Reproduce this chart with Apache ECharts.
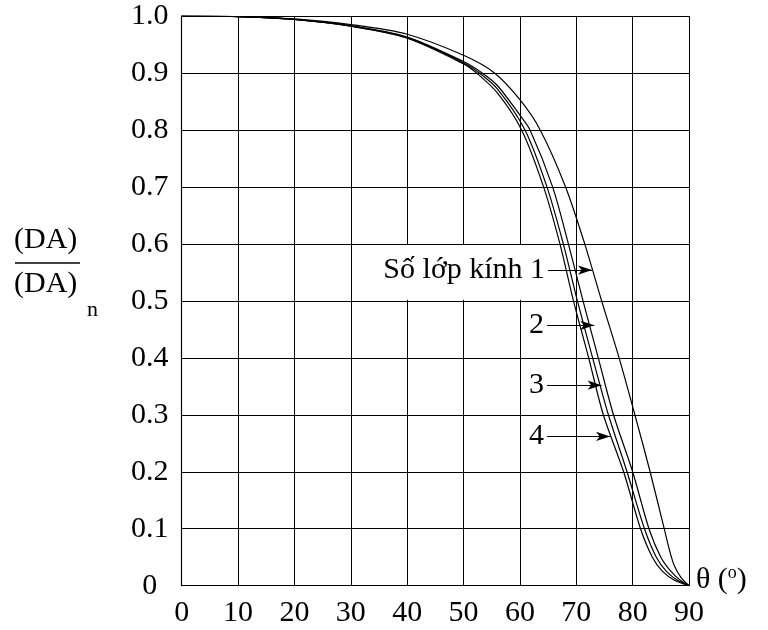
<!DOCTYPE html>
<html>
<head>
<meta charset="utf-8">
<script src="https://cdn.jsdelivr.net/npm/echarts@6/dist/echarts.min.js"></script>
<style>html,body{margin:0;padding:0;background:#fff;}#c{width:768px;height:630px;}</style>
</head>
<body>
<div id="c"></div>
<script>
// Data: [theta (deg), (DA)/(DA)n]
const curve1 = [[0,1.0],[10,0.999],[20,0.995],[30,0.985],[40,0.968],[50,0.931],[55.5,0.9],[60,0.853],[63.6,0.8],[68.1,0.7],[71.5,0.6],[74.5,0.5],[77.6,0.4],[80.4,0.3],[83.1,0.2],[85.6,0.1],[86.6,0.06],[87.4,0.035],[88.6,0.014],[90,0]];
const curve2 = [[0,1.0],[10,0.999],[20,0.994],[30,0.983],[40,0.963],[50,0.92],[53.3,0.9],[56,0.878],[60,0.826],[61.8,0.8],[65.8,0.7],[68.6,0.6],[71.2,0.5],[73.9,0.4],[76.6,0.3],[80.0,0.2],[82.9,0.1],[85.0,0.05],[86.8,0.025],[88.5,0.009],[90,0]];
const curve3 = [[0,1.0],[10,0.999],[20,0.994],[30,0.982],[40,0.962],[50,0.918],[52.8,0.9],[56,0.872],[60.9,0.8],[64.8,0.7],[67.7,0.6],[70.2,0.5],[72.9,0.4],[75.7,0.3],[79.0,0.2],[82.1,0.1],[84.2,0.05],[86.0,0.025],[88.0,0.009],[90,0]];
const curve4 = [[0,1.0],[10,0.999],[20,0.994],[30,0.982],[40,0.961],[50,0.916],[52.3,0.9],[56,0.865],[60.3,0.8],[64.2,0.7],[67.1,0.6],[69.5,0.5],[72.2,0.4],[74.8,0.3],[78.4,0.2],[81.4,0.1],[83.5,0.05],[85.3,0.025],[87.5,0.009],[90,0]];
const curveLabels = ['Số lớp kính 1', '2', '3', '4'];
// arrow pointers: [startTheta, endTheta, value]
const arrows = [[65.0, 72.8, 0.554], [64.8, 73.2, 0.457], [64.8, 74.5, 0.352], [64.8, 76.0, 0.262]];
const xTicks = ['0','10','20','30','40','50','60','70','80','90'];
const yTicks = ['0','0.1','0.2','0.3','0.4','0.5','0.6','0.7','0.8','0.9','1.0'];

const FONT = 'Liberation Serif';
const FS = 30;
const chart = echarts.init(document.getElementById('c'), null, {renderer: 'canvas'});

const lineSeries = [curve1, curve2, curve3, curve4].map(d => ({
  type: 'line', data: d, symbol: 'none', smooth: 0.3,
  lineStyle: {color: '#000', width: 1.2}, z: 3, silent: true
}));

chart.setOption({
  animation: false,
  backgroundColor: '#fff',
  grid: {left: 181.7, right: 79, top: 16, bottom: 44.3},
  xAxis: {
    type: 'value', min: 0, max: 90, interval: 10,
    axisLine: {show: true, lineStyle: {color: '#000', width: 1.2}},
    axisTick: {show: false},
    splitLine: {show: true, lineStyle: {color: '#000', width: 1}},
    axisLabel: {color: '#000', fontFamily: FONT, fontSize: FS, margin: 12,
      formatter: v => xTicks[Math.round(v / 10)]}
  },
  yAxis: {
    type: 'value', min: 0, max: 1, interval: 0.1,
    axisLine: {show: true, lineStyle: {color: '#000', width: 1.2}},
    axisTick: {show: false},
    splitLine: {show: true, lineStyle: {color: '#000', width: 1}},
    axisLabel: {color: '#000', fontFamily: FONT, fontSize: FS, margin: 32, align: 'center',
      formatter: v => yTicks[Math.round(v * 10)]}
  },
  series: [
    {
      type: 'line', data: [], z: 1, silent: true,
      markArea: {silent: true, itemStyle: {color: '#fff', opacity: 1},
        data: [[{coord: [30.25, 0.502]}, {coord: [66.2, 0.598]}]]}
    },
    ...lineSeries,
    {
      type: 'line', data: [], z: 4, silent: true,
      markLine: {
        silent: true, animation: false,
        symbol: ['none', 'arrow'], symbolSize: [7, 14],
        lineStyle: {color: '#000', width: 1, type: 'solid'},
        label: {show: true, position: 'start', distance: 3, color: '#000', fontFamily: FONT, fontSize: FS,
          formatter: p => p.name},
        data: arrows.map((a, i) => [{name: curveLabels[i], coord: [a[0], a[2]]}, {coord: [a[1], a[2]]}])
      }
    }
  ],
  graphic: [
    {type: 'text', left: 14, top: 225, style: {text: '(DA)', font: FS + 'px ' + FONT, fill: '#000'}},
    {type: 'line', shape: {x1: 15, y1: 263, x2: 80, y2: 263}, style: {stroke: '#000', lineWidth: 1.5}},
    {type: 'text', left: 14, top: 269, style: {text: '(DA)', font: FS + 'px ' + FONT, fill: '#000'}},
    {type: 'text', left: 87, top: 299, style: {text: 'n', font: '22px ' + FONT, fill: '#000'}},
    {type: 'text', left: 696, top: 564, style: {
      text: '{a|θ (}{s|o}{a|)}',
      rich: {a: {fontFamily: FONT, fontSize: FS, fill: '#000'},
             s: {fontFamily: FONT, fontSize: 18, fill: '#000', verticalAlign: 'top', padding: [0,0,14,0]}}
    }}
  ]
});
</script>
</body>
</html>
